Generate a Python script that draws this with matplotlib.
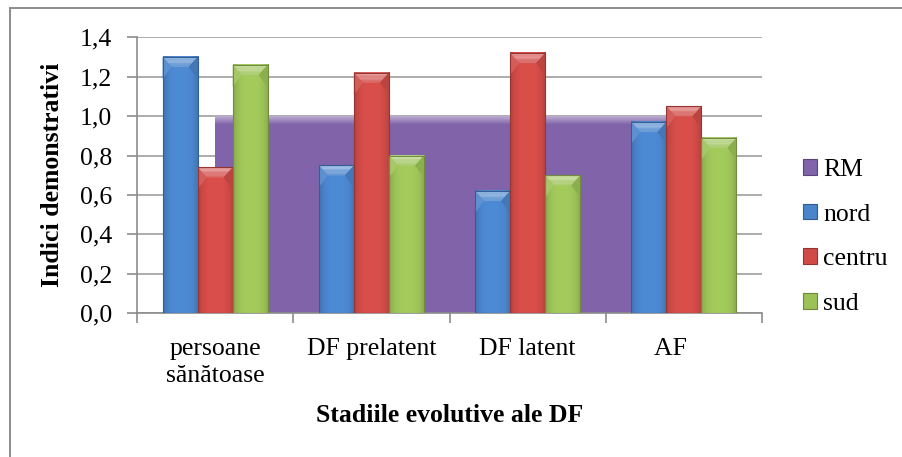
import numpy as np
import matplotlib
matplotlib.use("Agg")
import matplotlib.pyplot as plt
from matplotlib.patches import Polygon, Rectangle, Patch
from matplotlib.colors import to_rgb

plt.rcParams['font.family'] = ['Liberation Serif', 'DejaVu Serif']

categories = ["persoane\nsănătoase", "DF prelatent", "DF latent", "AF    "]
rm = [1.0, 1.0, 1.0, 1.0]
nord = [1.30, 0.75, 0.62, 0.97]
centru = [0.74, 1.22, 1.32, 1.05]
sud = [1.26, 0.80, 0.70, 0.89]
yticks = [0.0, 0.2, 0.4, 0.6, 0.8, 1.0, 1.2, 1.4]

c_rm = "#8063A8"
c_nord = "#4A84CB"
c_centru = "#D04B47"
c_sud = "#9CC257"

FS = 18.5
W, H = 902, 457
fig = plt.figure(figsize=(W / 100, H / 100), dpi=100)
ax = fig.add_axes([137 / W, 1 - 313.3 / H, 625 / W, 276 / H])

# outer chart frame
fig.patches.append(Rectangle((10 / W, -0.2), 1.2, 1 - 8 / H + 0.2, transform=fig.transFigure,
                             fill=False, edgecolor="#8C8C8C", lw=1.4, zorder=0))

x = np.arange(len(categories))
bw = 0.2244
px_x = 1 / 156.0          # data units per pixel (x)
px_y = 0.2 / 39.45        # data units per pixel (y)


def shade(c, f):
    c = np.array(to_rgb(c))
    if f >= 1:
        return tuple(c + (1 - c) * (f - 1))
    return tuple(c * f)


def bevel_bar(xc, h, color):
    c = np.array(to_rgb(color))
    n = 64
    t = np.linspace(-1, 1, n)
    s = 1.05 - 0.18 * np.abs(t) ** 3
    img = np.clip(c[None, :] * s[:, None], 0, 1)[None, :, :]
    l, r = xc - bw / 2, xc + bw / 2
    ax.imshow(img, extent=[l, r, 0, h], aspect='auto', zorder=3, interpolation='bilinear')
    # chamfered top: a light trapezoid fading into the bar colour
    bx, by = 9 * px_x, 10 * px_y
    steps = 8
    for k in range(steps):
        f0 = k / steps
        f1 = (k + 1) / steps
        y0, y1 = h - by * f0, h - by * f1
        x0, x1 = bx * f0, bx * f1
        col = shade(color, 1.55 - 0.4 * f0)
        ax.add_patch(Polygon([(l + x0, y0), (r - x0, y0), (r - x1, y1), (l + x1, y1)],
                             facecolor=col, edgecolor='none', zorder=4))
    # slightly darker side facets under the chamfer
    ax.add_patch(Polygon([(l, h), (l + bx, h - by), (l, h - 2.2 * by)],
                         facecolor=shade(color, 1.1), edgecolor='none', zorder=4))
    ax.add_patch(Polygon([(r, h), (r - bx, h - by), (r, h - 2.2 * by)],
                         facecolor=shade(color, 0.9), edgecolor='none', zorder=4))
    ax.add_patch(Rectangle((l, 0), bw, h, fill=False, edgecolor=shade(color, 0.72),
                           lw=0.8, zorder=5))


# RM reference level as a filled area between the first and last category
ax.fill_between(x, 0, rm, color=c_rm, zorder=2, lw=0)
band = 8 * px_y
nb = 8
for k in range(nb):
    y_hi = np.array(rm) - band * k / nb
    y_lo = np.array(rm) - band * (k + 1) / nb
    ax.fill_between(x, y_lo, y_hi, color=shade(c_rm, 1.45 - 0.45 * k / nb), zorder=2.1, lw=0)

for i in range(len(categories)):
    bevel_bar(x[i] - bw, nord[i], c_nord)
    bevel_bar(x[i], centru[i], c_centru)
    bevel_bar(x[i] + bw, sud[i], c_sud)

ax.set_xlim(-0.5, len(categories) - 0.5)
ax.set_ylim(0, 1.4)
ax.set_yticks(yticks)
ax.set_yticklabels([f"{v:.1f}".replace(".", ",") for v in yticks], fontsize=FS)
ax.yaxis.grid(True, color="#A6A6A6", lw=1.3, zorder=0)
ax.set_axisbelow(True)

ax.set_xticks(x)
ax.set_xticklabels(categories, fontsize=FS, va='top', linespacing=1.3)
ax.set_xticks(np.arange(len(categories) + 1) - 0.5, minor=True)
ax.tick_params(axis='x', which='major', length=0, pad=18)
ax.tick_params(axis='x', which='minor', length=7, color="#8C8C8C", width=1.2)
ax.tick_params(axis='y', length=7, color="#8C8C8C", width=1.2, pad=11)

for s in ['top', 'right']:
    ax.spines[s].set_visible(False)
ax.spines['left'].set_color("#8C8C8C")
ax.spines['bottom'].set_color("#8C8C8C")
ax.spines['left'].set_linewidth(1.2)
ax.spines['bottom'].set_linewidth(1.2)

fig.text(53 / W, 1 - 175 / H, "Indici demonstrativi", rotation=90, fontsize=FS,
         fontweight='bold', ha='center', va='center')
fig.text(450 / W, 1 - 416 / H, "Stadiile evolutive ale DF", fontsize=FS,
         fontweight='bold', ha='center', va='center')

handles = [Patch(facecolor=c, edgecolor=shade(c, 0.7), lw=0.8)
           for c in [c_rm, c_nord, c_centru, c_sud]]
fig.legend(handles, ["RM", "nord", "centru", "sud"], loc='center left',
           bbox_to_anchor=(803 / W, 1 - 237 / H), frameon=False, fontsize=FS,
           handlelength=0.56, handleheight=0.56, handletextpad=0.22,
           labelspacing=0.88, borderpad=0, borderaxespad=0)

fig.savefig("out.png", dpi=100)
